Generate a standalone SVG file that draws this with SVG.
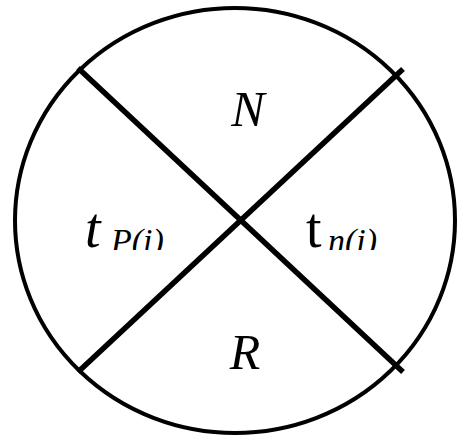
<svg xmlns="http://www.w3.org/2000/svg" width="457" height="440" viewBox="0 0 457 440">
<style>
.outline{fill:none;stroke:#000;stroke-width:4}
.div{stroke:#000;stroke-width:5.5;stroke-linecap:butt}
.lbl{font-family:"Liberation Serif","Times New Roman",serif;font-style:italic;fill:#000}
.up{font-family:"Liberation Serif","Times New Roman",serif;fill:#000}
</style>
<defs>
<clipPath id="cut"><rect x="0" y="0" width="457" height="250"/></clipPath>
</defs>
<g id="circle"><ellipse class="outline" cx="235" cy="220.5" rx="220" ry="212.5"/></g>
<g id="connectors">
<line class="div" x1="78" y1="68" x2="403" y2="372"/>
<line class="div" x1="403" y1="69" x2="78" y2="372"/>
</g>
<g id="node-N"><text class="lbl" x="248" y="126" font-size="50" text-anchor="middle">N</text></g>
<g id="node-R"><text class="lbl" x="245" y="369" font-size="50" text-anchor="middle">R</text></g>
<g id="node-tP">
<text class="lbl" x="85" y="247" font-size="56">t</text>
<text class="lbl" x="111" y="252" font-size="34" clip-path="url(#cut)">P(i)</text>
</g>
<g id="node-tn">
<text class="up" x="306" y="247" font-size="56">t</text>
<text class="lbl" x="328" y="252" font-size="34" clip-path="url(#cut)">n(i)</text>
</g>
</svg>
